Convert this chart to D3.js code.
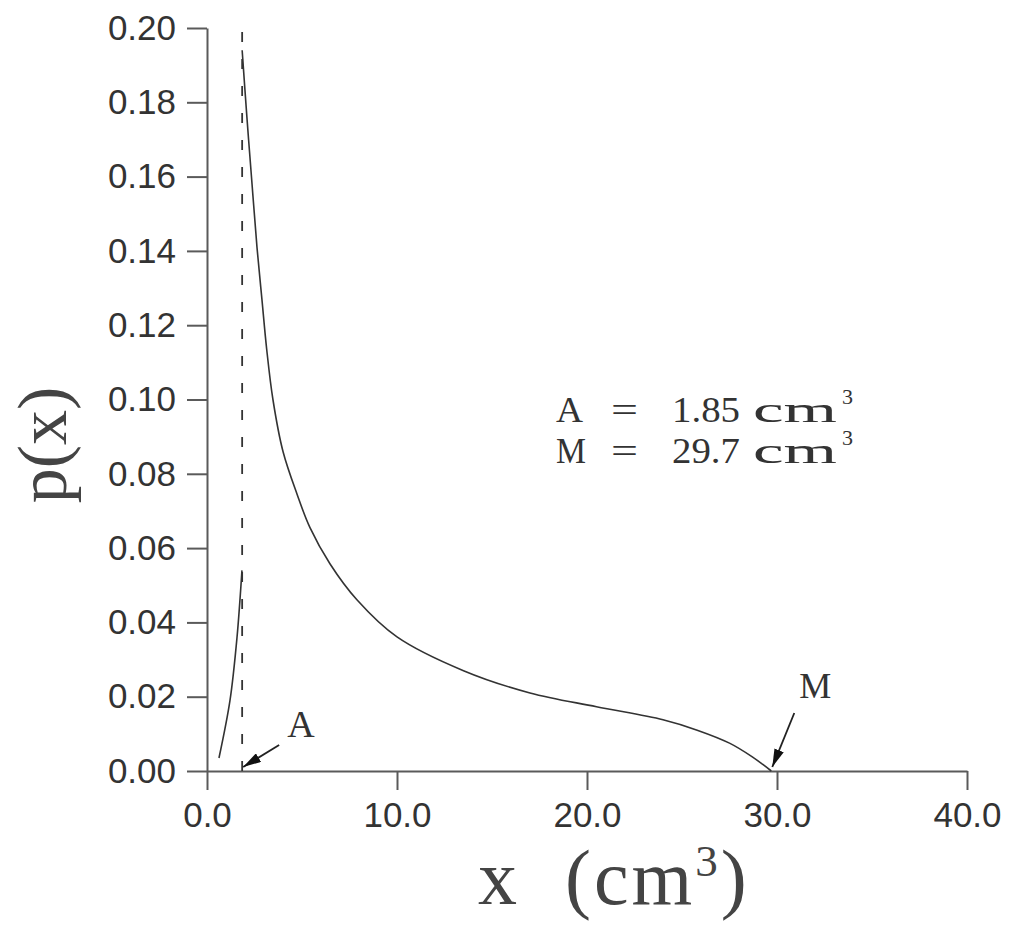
<!DOCTYPE html>
<html>
<head>
<meta charset="utf-8">
<script src="https://cdn.jsdelivr.net/npm/d3@7"></script>
<style>
  html, body { margin: 0; padding: 0; background: #fff; }
  svg { display: block; }
</style>
</head>
<body>
<svg id="chart" width="1024" height="933"></svg>
<script>
// ---- data ----
const xTicks = [0, 10, 20, 30, 40];
const yTicks = [0, 0.02, 0.04, 0.06, 0.08, 0.10, 0.12, 0.14, 0.16, 0.18, 0.20];
// branch left of A (x < A)
const leftX = [0.63, 1.21, 1.58, 1.84];
const leftP = [0.0035, 0.019, 0.036, 0.054];
// main branch from A to M
const mainX = [1.85, 2.1, 2.37, 2.63, 2.89, 3.14, 3.47, 4.0, 4.74, 5.42, 6.47, 7.89, 10.0, 13.5, 17.0, 20.5, 24.0, 25.8, 27.5, 28.7, 29.7];
const mainP = [0.194, 0.176, 0.158, 0.141, 0.127, 0.1136, 0.100, 0.0860, 0.0745, 0.0655, 0.0558, 0.0461, 0.0361, 0.027, 0.021, 0.0173, 0.0138, 0.011, 0.0075, 0.0038, 0.0];
const A = 1.85;
const M = 29.7;
const annoNames = ["A", "M"];
const annoValues = ["1.85", "29.7"];

// ---- layout ----
const svg = d3.select("#chart");
const x = d3.scaleLinear().domain([0, 40]).range([207, 967]);
const y = d3.scaleLinear().domain([0, 0.20]).range([771, 28]);
const ink = "#333";
const axisCol = "#5a5a5a";
const tickFont = "'Liberation Sans', Arial, sans-serif";
const serif = "'Liberation Serif', 'Times New Roman', serif";

// axes
const gy = svg.append("g").attr("transform", `translate(${x(0)},0)`)
  .call(d3.axisLeft(y).tickValues(yTicks).tickSize(20).tickSizeOuter(0).tickPadding(11)
    .tickFormat(d => d.toFixed(2)));
const gx = svg.append("g").attr("transform", `translate(0,${y(0)})`)
  .call(d3.axisBottom(x).tickValues(xTicks).tickSize(19).tickSizeOuter(0).tickPadding(12)
    .tickFormat(d => d.toFixed(1)));
[gx, gy].forEach(g => {
  g.select(".domain").attr("stroke", axisCol).attr("stroke-width", 2);
  g.selectAll(".tick line").attr("stroke", axisCol).attr("stroke-width", 2);
  g.selectAll(".tick text").attr("fill", ink).style("font-family", tickFont).style("font-size", "35px");
});

// dashed line at A
svg.append("line")
  .attr("x1", x(A)).attr("x2", x(A)).attr("y1", y(0)).attr("y2", y(0.199))
  .attr("stroke", ink).attr("stroke-width", 1.8).attr("stroke-dasharray", "10,17");

// curves
const line = d3.line().x(d => x(d[0])).y(d => y(d[1])).curve(d3.curveCatmullRom.alpha(0.5));
svg.append("path").datum(leftX.map((v, i) => [v, leftP[i]]))
  .attr("d", line).attr("fill", "none").attr("stroke", ink).attr("stroke-width", 1.6);
svg.append("path").datum(mainX.map((v, i) => [v, mainP[i]]))
  .attr("d", line).attr("fill", "none").attr("stroke", ink).attr("stroke-width", 1.6);

// arrows
svg.append("defs").append("marker")
  .attr("id", "arrow").attr("markerUnits", "userSpaceOnUse")
  .attr("viewBox", "0 0 18 10").attr("refX", 18).attr("refY", 5)
  .attr("markerWidth", 18).attr("markerHeight", 10).attr("orient", "auto")
  .append("path").attr("d", "M0,0 L18,5 L0,10 Z").attr("fill", "#111");

function arrow(val, dx, dy) {
  const tx = x(val) + 1, ty = y(0) - 4;
  svg.append("line").attr("x1", tx + dx).attr("y1", ty + dy).attr("x2", tx).attr("y2", ty)
    .attr("stroke", "#222").attr("stroke-width", 1.8).attr("marker-end", "url(#arrow)");
}
arrow(A, 36, -22);
arrow(M, 22, -54);

svg.append("text").attr("x", x(A) + 45).attr("y", y(0) - 34)
  .style("font-family", serif).style("font-size", "38px").attr("fill", ink).text("A");
svg.append("text").attr("x", x(M) + 28).attr("y", y(0) - 73)
  .style("font-family", serif).style("font-size", "36px").attr("fill", ink).text("M");

// annotation block
annoNames.forEach((nm, i) => {
  const by = 422 + i * 41;
  const g = svg.append("g").style("font-family", serif).attr("fill", ink);
  g.append("text").attr("x", 556).attr("y", by).style("font-size", "35px")
    .attr("textLength", nm === "M" ? 30 : 27).attr("lengthAdjust", "spacingAndGlyphs").text(nm);
  g.append("text").attr("x", 611).attr("y", by).style("font-size", "35px")
    .attr("textLength", 27).attr("lengthAdjust", "spacingAndGlyphs").text("=");
  g.append("text").attr("x", 672).attr("y", by).style("font-size", "35px")
    .attr("textLength", 68).attr("lengthAdjust", "spacingAndGlyphs").text(annoValues[i]);
  g.append("text").attr("x", 753).attr("y", by).style("font-size", "35px")
    .attr("textLength", 84).attr("lengthAdjust", "spacingAndGlyphs").text("cm");
  g.append("text").attr("x", 842).attr("y", by - 18).style("font-size", "22px").text("3");
});

// axis titles
const xl = svg.append("text").attr("x", 478).attr("y", 904).attr("text-anchor", "start")
  .style("font-family", serif).style("font-size", "78px").style("letter-spacing", "3px")
  .attr("fill", "#444").style("white-space", "pre");
xl.append("tspan").text("x  (cm");
xl.append("tspan").attr("dy", -28).style("font-size", "45px").text("3");
xl.append("tspan").attr("dy", 28).text(")");

svg.append("text").attr("transform", "translate(66,445) rotate(-90)").attr("text-anchor", "middle")
  .style("font-family", serif).style("font-size", "70px").attr("fill", "#444").text("p(x)");
</script>
</body>
</html>
